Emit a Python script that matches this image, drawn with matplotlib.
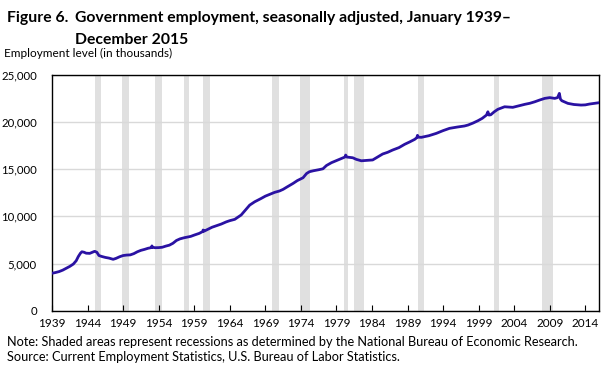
import matplotlib
matplotlib.use("Agg")
import matplotlib.pyplot as plt
from matplotlib.ticker import FuncFormatter

plt.rcParams["font.family"] = ["Lato", "DejaVu Sans"]

# decimal year, government employment (thousands)
years = [
    1939.0, 1939.5, 1940.0, 1940.5, 1941.0, 1941.5, 1942.0, 1942.4, 1942.7, 1943.0,
    1943.2, 1943.5, 1943.8, 1944.3, 1944.7, 1945.0, 1945.3, 1945.6, 1946.0, 1946.5,
    1947.0, 1947.6, 1948.0, 1948.5, 1949.0, 1949.5, 1950.0, 1950.5, 1951.0, 1951.5,
    1952.0, 1952.5, 1953.0, 1953.05, 1953.15, 1953.5, 1954.0, 1954.5, 1955.0, 1955.5,
    1956.0, 1956.5, 1957.0, 1957.6, 1958.0, 1958.5, 1959.0, 1959.7, 1960.2, 1960.25,
    1960.35, 1960.9, 1961.5, 1962.0, 1962.8, 1963.5, 1964.0, 1964.7, 1965.3, 1965.6,
    1966.0, 1966.5, 1966.8, 1967.5, 1968.4, 1969.0, 1969.5, 1970.3, 1971.0, 1971.5,
    1972.0, 1972.9, 1973.5, 1974.3, 1974.8, 1975.2, 1975.8, 1976.5, 1977.1, 1977.6,
    1978.3, 1979.2, 1979.6, 1980.2, 1980.3, 1980.45, 1981.3, 1981.8, 1982.5, 1983.3,
    1984.1, 1984.8, 1985.5, 1986.2, 1986.9, 1987.8, 1988.6, 1989.3, 1990.0, 1990.3,
    1990.4, 1990.55, 1990.95, 1992.0, 1993.05, 1994.0, 1994.9, 1996.0, 1997.0, 1997.5,
    1998.2, 1998.9, 1999.5, 2000.1, 2000.3, 2000.45, 2000.7, 2001.2, 2001.7, 2002.65,
    2003.2, 2003.8, 2004.6, 2005.5, 2006.2, 2006.9, 2007.6, 2008.3, 2009.0, 2009.7,
    2010.1, 2010.35, 2010.5, 2010.7, 2011.55, 2012.4, 2013.4, 2014.0, 2014.6, 2015.2,
    2015.92,
]
employment = [
    3970, 4050, 4150, 4300, 4500, 4700, 4950, 5300, 5750, 6100,
    6250, 6200, 6100, 6080, 6200, 6300, 6200, 5850, 5750, 5650,
    5580, 5450, 5550, 5720, 5850, 5900, 5920, 6050, 6250, 6400,
    6500, 6620, 6700, 6870, 6720, 6680, 6690, 6730, 6850, 6950,
    7150, 7450, 7620, 7740, 7800, 7880, 8020, 8200, 8400, 8560,
    8420, 8630, 8850, 8980, 9190, 9420, 9550, 9690, 10000, 10150,
    10500, 10950, 11200, 11550, 11900, 12150, 12300, 12550, 12700, 12870,
    13100, 13500, 13800, 14100, 14550, 14740, 14850, 14950, 15050, 15400,
    15700, 15980, 16100, 16300, 16510, 16300, 16220, 16050, 15900, 15950,
    15990, 16300, 16620, 16800, 17040, 17300, 17650, 17900, 18170, 18350,
    18600, 18400, 18390, 18560, 18810, 19100, 19340, 19480, 19590, 19690,
    19900, 20150, 20400, 20750, 21100, 20750, 20780, 21100, 21360, 21630,
    21600, 21570, 21720, 21890, 22000, 22160, 22350, 22520, 22600, 22520,
    22600, 23050, 22450, 22270, 21990, 21870, 21810, 21830, 21920, 21980,
    22060,
]

# NBER recessions (start, end) as decimal years
rec_start = [1945.08, 1948.83, 1953.5, 1957.58, 1960.25, 1969.92, 1973.83,
             1980.0, 1981.5, 1990.5, 2001.17, 2007.92]
rec_end = [1945.83, 1949.83, 1954.42, 1958.33, 1961.17, 1970.92, 1975.25,
           1980.58, 1982.92, 1991.25, 2001.92, 2009.5]

xticks = list(range(1939, 2015, 5))
yticks = [0, 5000, 10000, 15000, 20000, 25000]

fig = plt.figure(figsize=(6.05, 3.72), dpi=100)
ax = fig.add_axes([0.0860, 0.1648, 0.9040, 0.6336])

for s, e in zip(rec_start, rec_end):
    ax.axvspan(s, e, color="#e0e0e0", lw=0, zorder=0)

ax.plot(years, employment, color="#2a12a3", lw=2, zorder=3)

ax.set_xlim(1939, 2015.92)
ax.set_ylim(0, 25000)
ax.set_yticks(yticks)
ax.set_xticks(xticks)
ax.yaxis.set_major_formatter(FuncFormatter(lambda v, p: f"{int(v):,}"))
ax.grid(axis="y", color="#d9d9d9", lw=1, zorder=1)
ax.set_axisbelow(True)
ax.tick_params(axis="y", length=0, pad=11, labelsize=8.2)
ax.tick_params(axis="x", direction="in", length=4, width=0.8, pad=5, labelsize=8.5)
for sp in ax.spines.values():
    sp.set_linewidth(1)
    sp.set_color("black")

# title: label plus two-line text with hanging indent
fig.text(0.012, 0.941, "Figure 6.", fontsize=11.3, fontweight="bold")
fig.text(0.124, 0.941, "Government employment, seasonally adjusted, January 1939–",
         fontsize=11.3, fontweight="bold")
fig.text(0.124, 0.882, "December 2015", fontsize=11.3, fontweight="bold")
fig.text(0.006, 0.847, "Employment level (in thousands)", fontsize=8.5)
fig.text(0.012, 0.070, "Note: Shaded areas represent recessions as determined by the National Bureau of Economic Research.",
         fontsize=9.2)
fig.text(0.012, 0.030, "Source: Current Employment Statistics, U.S. Bureau of Labor Statistics.",
         fontsize=9.2)

fig.savefig("out.png", dpi=100)
